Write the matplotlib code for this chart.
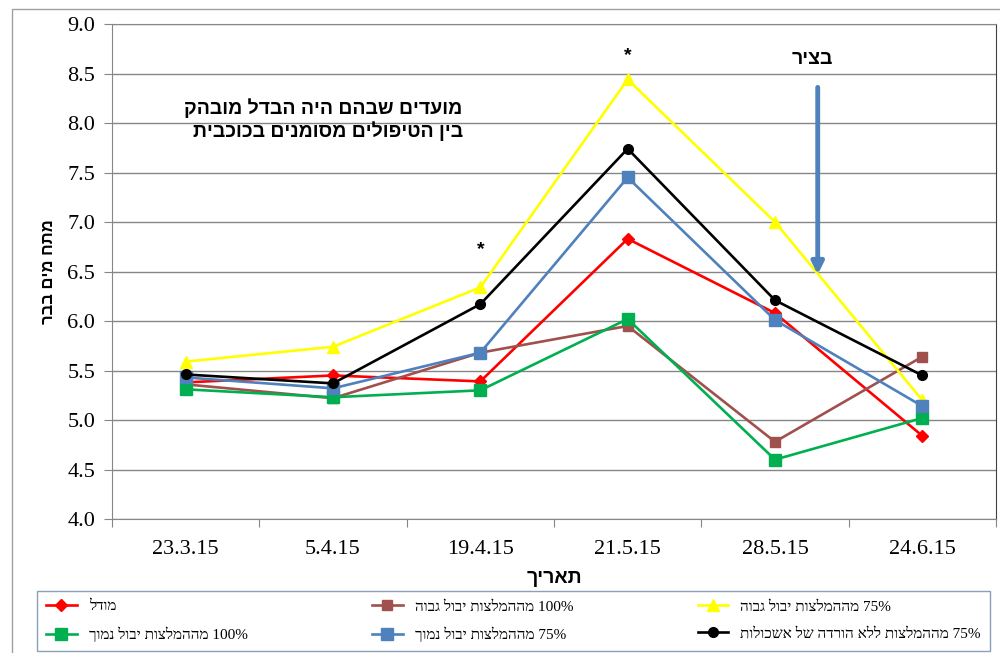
import numpy as np
import matplotlib
matplotlib.use('Agg')
import matplotlib.pyplot as plt
from matplotlib.patches import Rectangle
from matplotlib.font_manager import FontProperties


def heb(s):
    # matplotlib has no bidi support, so put hebrew into visual order by hand
    return s[::-1]


dates = ['23.3.15', '5.4.15', '19.4.15', '21.5.15', '28.5.15', '24.6.15']

model = [5.38, 5.45, 5.39, 6.83, 6.08, 4.84]
high100 = [5.36, 5.22, 5.68, 5.95, 4.78, 5.64]
high75 = [5.59, 5.74, 6.34, 8.44, 7.00, 5.20]
low100 = [5.31, 5.23, 5.30, 6.02, 4.60, 5.02]
low75 = [5.43, 5.32, 5.68, 7.45, 6.01, 5.14]
nocut75 = [5.46, 5.37, 6.17, 7.74, 6.21, 5.45]

lab_model = heb('מודל')
lab_high100 = heb('מההמלצות יבול גבוה') + ' 100%'
lab_high75 = heb('מההמלצות יבול גבוה') + ' 75%'
lab_low100 = heb('מההמלצות יבול נמוך') + ' 100%'
lab_low75 = heb('מההמלצות יבול נמוך') + ' 75%'
lab_nocut75 = heb('מההמלצות ללא הורדה של אשכולות') + ' 75%'

serif = ['Liberation Serif', 'DejaVu Serif', 'DejaVu Sans']
sans = ['Liberation Sans', 'DejaVu Sans']

fig = plt.figure(figsize=(10, 6.53), dpi=100)
ax = fig.add_axes([0.112, 0.2052, 0.884, 0.758])

x = np.arange(len(dates))
lw = 1.9
ax.plot(x, model, color='#FF0000', marker='D', ms=6, lw=lw, label=lab_model, zorder=3)
ax.plot(x, high100, color='#A0504D', marker='s', ms=7, lw=lw, label=lab_high100, zorder=3)
ax.plot(x, high75, color='#FFFF00', marker='^', ms=8, lw=lw, label=lab_high75, zorder=3)
ax.plot(x, low100, color='#00B050', marker='s', ms=8, lw=lw, label=lab_low100, zorder=3)
ax.plot(x, low75, color='#4F81BD', marker='s', ms=8, lw=lw, label=lab_low75, zorder=3)
ax.plot(x, nocut75, color='#000000', marker='o', ms=7, lw=lw, label=lab_nocut75, zorder=3)

ax.set_xlim(-0.5, len(dates) - 0.5)
ax.set_ylim(4.0, 9.0)
ax.set_yticks(np.arange(4.0, 9.01, 0.5))
ax.set_yticklabels(['%.1f' % v for v in np.arange(4.0, 9.01, 0.5)])
ax.set_xticks(np.arange(-0.5, len(dates), 1.0))
ax.set_xticklabels([])
ax.set_xticks(x, minor=True)
ax.set_xticklabels(dates, minor=True)
ax.tick_params(axis='x', which='minor', length=0, pad=15)
ax.tick_params(axis='x', which='major', length=6, color='#868686')
ax.tick_params(axis='y', length=6, color='#868686', pad=6)
for t in ax.get_xticklabels(minor=True) + ax.get_yticklabels():
    t.set_fontfamily(serif)
    t.set_fontsize(16)
    t.set_color('#000000')

ax.grid(axis='y', color='#868686', lw=1, zorder=0)
ax.set_axisbelow(True)
for side in ['left', 'bottom', 'top']:
    ax.spines[side].set_color('#868686')
ax.spines['right'].set_color('#404040')

ax.set_ylabel(heb('מתח מים בבר'), fontfamily=sans, fontsize=12, fontweight='bold', labelpad=8)
ax.set_xlabel(heb('תאריך'), fontfamily=sans, fontsize=14, fontweight='bold', labelpad=8)

# annotations
ax.text(1.88, 8.15, heb('מועדים שבהם היה הבדל מובהק'), ha='right', va='center',
        fontfamily=sans, fontsize=14, fontweight='bold')
ax.text(1.88, 7.92, heb('בין הטיפולים מסומנים בכוכבית'), ha='right', va='center',
        fontfamily=sans, fontsize=14, fontweight='bold')
ax.text(2.0, 6.72, '*', ha='center', va='center', fontfamily=sans, fontsize=14, fontweight='bold')
ax.text(3.0, 8.68, '*', ha='center', va='center', fontfamily=sans, fontsize=14, fontweight='bold')
ax.text(4.25, 8.64, heb('בציר'), ha='center', va='center', fontfamily=sans,
        fontsize=14, fontweight='bold')
ax.annotate('', xy=(4.29, 6.47), xytext=(4.29, 8.36),
            arrowprops=dict(arrowstyle='-|>,head_width=0.35,head_length=0.7',
                            color='#4F81BD', lw=3.5, shrinkA=0, shrinkB=0))

# legend, filled column by column to give excel's row order
h, l = ax.get_legend_handles_labels()
order = [0, 3, 1, 4, 2, 5]
fig.legend([h[i] for i in order], [l[i] for i in order], ncol=3, loc='lower left',
           bbox_to_anchor=(0.037, 0.003, 0.953, 0.094), mode='expand',
           borderaxespad=0, fancybox=False, edgecolor='#8aa0b8', framealpha=1,
           prop=FontProperties(family=serif, size=11), handlelength=2.0,
           borderpad=0.6, labelspacing=0.85)

fig.patches.append(Rectangle((0.012, -0.01), 1.0, 1 - 9 / 653 + 0.01,
                             transform=fig.transFigure, fill=False,
                             edgecolor='#a0a0a0', lw=1))

fig.savefig('out.png', dpi=100)
